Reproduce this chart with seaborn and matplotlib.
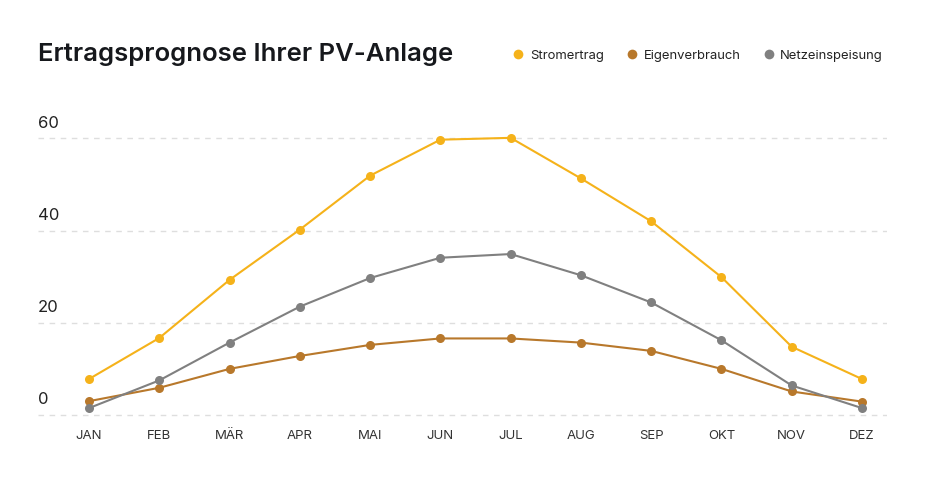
"""
Ertragsprognose einer PV-Anlage: monatlicher Stromertrag, Eigenverbrauch und Netzeinspeisung.
"""

import matplotlib

matplotlib.use("Agg")
import matplotlib.pyplot as plt
from matplotlib.lines import Line2D
import seaborn as sns
import numpy as np
import pandas as pd

# Daten
months = ["JAN", "FEB", "MÄR", "APR", "MAI", "JUN", "JUL", "AUG", "SEP", "OKT", "NOV", "DEZ"]
stromertrag = [7.8, 16.7, 29.3, 40.2, 51.9, 59.7, 60.1, 51.3, 42.0, 29.9, 14.8, 7.8]
eigenverbrauch = [3.0, 5.9, 10.0, 12.8, 15.2, 16.6, 16.6, 15.7, 13.9, 10.0, 5.1, 2.9]
netzeinspeisung = [1.5, 7.5, 15.7, 23.5, 29.7, 34.1, 34.9, 30.3, 24.4, 16.2, 6.4, 1.5]
series_names = ["Stromertrag", "Eigenverbrauch", "Netzeinspeisung"]
y_ticks = [0, 20, 40, 60]
title = "Ertragsprognose Ihrer PV-Anlage"

colors = {"Stromertrag": "#F5B21A", "Eigenverbrauch": "#B8782B", "Netzeinspeisung": "#808080"}

# Long-Format für seaborn
x_idx = np.arange(len(months))
df = pd.DataFrame(
    {
        "x": np.tile(x_idx, 3),
        "wert": stromertrag + eigenverbrauch + netzeinspeisung,
        "reihe": np.repeat(series_names, len(months)),
    }
)

sns.set_theme(style="white")
plt.rcParams["font.family"] = ["Inter", "DejaVu Sans"]

fig = plt.figure(figsize=(9.38, 4.86), dpi=100, facecolor="white")
ax = fig.add_axes([38 / 938, 1 - 420 / 486, (887 - 38) / 938, (420 - 110) / 486])

sns.lineplot(
    data=df,
    x="x",
    y="wert",
    hue="reihe",
    hue_order=series_names,
    palette=colors,
    marker="o",
    markersize=6.5,
    markeredgewidth=0,
    linewidth=1.5,
    legend=False,
    ax=ax,
    zorder=3,
)

# Achsenbereich
px_per_month = (862 - 89) / 11
ax.set_xlim(-(89 - 38) / px_per_month, 11 + (887 - 862) / px_per_month)
px_per_unit = (415 - 138.3) / 60
ax.set_ylim(-(420 - 415) / px_per_unit, 60 + (138.3 - 110) / px_per_unit)

# Gitterlinien gestrichelt, Beschriftung oberhalb der Linie
for v in y_ticks:
    ax.axhline(v, color="#DEDEDE", linewidth=1.0, linestyle=(0, (4, 4)), zorder=1)
    ax.annotate(
        str(v),
        xy=(0, v),
        xycoords=ax.get_yaxis_transform(),
        xytext=(0, 11),
        textcoords="offset points",
        ha="left",
        va="center",
        fontsize=12,
        color="#222222",
    )

ax.set_xticks(x_idx)
ax.set_xticklabels(months, fontsize=9.5, color="#333333")
ax.set_yticks([])
ax.tick_params(axis="x", length=0, pad=7)
ax.set_xlabel("")
ax.set_ylabel("")
for s in ax.spines.values():
    s.set_visible(False)
ax.set_facecolor("none")

# Titel
fig.text(38 / 938, 1 - 54 / 486, title, fontsize=18.5, fontweight="semibold",
         color="#16181c", ha="left", va="center")

# Legende oben rechts
handles = [
    Line2D([], [], marker="o", linestyle="none", markersize=7, markeredgewidth=0,
           color=colors[n]) for n in series_names
]
fig.legend(
    handles,
    series_names,
    loc="center left",
    bbox_to_anchor=(513 / 938, 1 - 56 / 486),
    ncol=3,
    frameon=False,
    fontsize=9.4,
    handlelength=0.8,
    handletextpad=0.5,
    columnspacing=1.75,
    borderpad=0,
    borderaxespad=0,
    labelcolor="#222222",
)

fig.savefig("out.png", dpi=100, facecolor="white")
